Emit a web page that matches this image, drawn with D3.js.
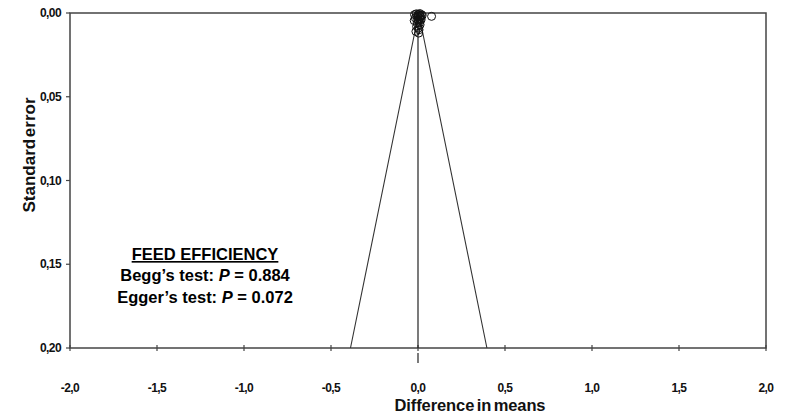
<!DOCTYPE html>
<html><head><meta charset="utf-8">
<script src="https://cdn.jsdelivr.net/npm/d3@7"></script>
<style>body{margin:0;background:#fff;} text{font-family:"Liberation Sans",Arial,sans-serif;}</style>
</head><body>
<svg id="c" width="787" height="417"></svg>
<script>
const xTicks = [-2.0,-1.5,-1.0,-0.5,0.0,0.5,1.0,1.5,2.0];
const yTicks = [0.00,0.05,0.10,0.15,0.20];
const effect = [-0.020,-0.010,0.000,0.005,0.010,0.015,0.020,-0.015,0.000,0.010,0.003,-0.005,0.008,0.012,0.078,-0.008,0.002,0.006,-0.012,0.004,0.018,0.000,0.010,-0.004,0.014,-0.022,0.024];
const stdErr = [0.0010,0.0005,0.0008,0.0010,0.0015,0.0020,0.0010,0.0030,0.0040,0.0030,0.0050,0.0060,0.0060,0.0070,0.0020,0.0080,0.0090,0.0100,0.0110,0.0120,0.0040,0.0020,0.0003,0.0025,0.0035,0.0045,0.0015];
const pooled = 0.004;
const annot = ["FEED EFFICIENCY","Begg’s test: ","Egger’s test: "];
const pvals = ["0.884","0.072"];

const svg = d3.select("#c");
const L=70,R=766,T=13,B=348;
const x = d3.scaleLinear().domain([-2,2]).range([L,R]);
const y = d3.scaleLinear().domain([0,0.2]).range([T,B]);
const fmt = d => d3.format(".1f")(d).replace(".",",").replace("−","-");
const fmtY = d => d3.format(".2f")(d).replace(".",",");
const col="#444";

// frame
svg.append("rect").attr("x",L).attr("y",T).attr("width",R-L).attr("height",B-T)
  .attr("fill","none").attr("stroke",col).attr("stroke-width",1.5);

// y axis ticks
const yg = svg.append("g");
yTicks.forEach(t=>{
  yg.append("line").attr("x1",L-4).attr("x2",L).attr("y1",y(t)).attr("y2",y(t)).attr("stroke",col).attr("stroke-width",1.2);
  yg.append("text").attr("x",L-9).attr("y",y(t)).attr("dy","0.35em").attr("text-anchor","end")
    .attr("font-size",12).attr("font-weight","bold").attr("fill","#111").attr("letter-spacing",-0.6).text(fmtY(t));
});
// x axis ticks
xTicks.forEach(t=>{
  svg.append("line").attr("x1",x(t)).attr("x2",x(t)).attr("y1",B-3).attr("y2",B+3).attr("stroke",col).attr("stroke-width",1.2);
  svg.append("text").attr("x",x(t)).attr("y",392).attr("text-anchor","middle")
    .attr("font-size",12).attr("font-weight","bold").attr("fill","#111").attr("letter-spacing",-0.6).text(fmt(t));
});

// vertical line at 0
svg.append("line").attr("x1",x(0)).attr("x2",x(0)).attr("y1",T).attr("y2",B).attr("stroke","#222").attr("stroke-width",1.2);
svg.append("line").attr("x1",x(0)).attr("x2",x(0)).attr("y1",B+5).attr("y2",B+15).attr("stroke","#222").attr("stroke-width",1.2);

// funnel
const funnel = [[pooled-1.96*0.2,0.2],[pooled,0],[pooled+1.96*0.2,0.2]];
svg.append("path").attr("d",d3.line().x(d=>x(d[0])).y(d=>y(d[1]))(funnel))
  .attr("fill","none").attr("stroke","#333").attr("stroke-width",1.1);

// points
svg.append("g").selectAll("circle").data(effect).join("circle")
  .attr("cx",(d)=>x(d)).attr("cy",(d,i)=>y(stdErr[i])).attr("r",4)
  .attr("fill","none").attr("stroke","#111").attr("stroke-width",1);

// axis titles
svg.append("text").attr("x",x(0)+52).attr("y",411).attr("text-anchor","middle")
  .attr("font-size",16.5).attr("font-weight","bold").attr("fill","#111").attr("letter-spacing",-0.1).attr("word-spacing",-2).text("Difference in means");
svg.append("text").attr("transform","translate(35,155) rotate(-90)").attr("text-anchor","middle")
  .attr("font-size",17).attr("font-weight","bold").attr("fill","#111").attr("word-spacing",-3).text("Standard error");

// annotation
const ax=205;
svg.append("text").attr("x",ax).attr("y",260).attr("text-anchor","middle").attr("font-size",16.5).attr("font-weight","bold")
  .attr("text-decoration","underline").text(annot[0]);
[1,2].forEach((k,i)=>{
  const t = svg.append("text").attr("x",ax).attr("y",281+22*i).attr("text-anchor","middle").attr("font-size",16.5).attr("font-weight","bold");
  t.append("tspan").text(annot[k]);
  t.append("tspan").attr("font-style","italic").text("P");
  t.append("tspan").text(" = "+pvals[i]);
});
</script>
</body></html>
